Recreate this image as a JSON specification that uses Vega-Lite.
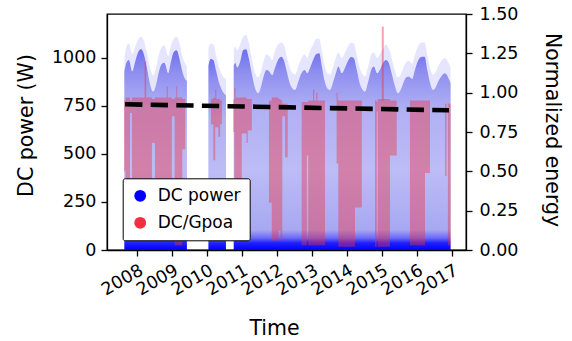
{
  "$schema": "https://vega.github.io/schema/vega-lite/v6.json",
  "width": 359,
  "height": 236,
  "autosize": {"type": "none"},
  "padding": {"left": 107, "top": 14, "right": 106, "bottom": 91},
  "background": "white",
  "config": {
    "font": "DejaVu Sans",
    "view": {"stroke": "black", "strokeWidth": 1.3},
    "axis": {
      "domainColor": "black", "tickColor": "black", "labelColor": "black", "titleColor": "black",
      "labelFont": "DejaVu Sans", "titleFont": "DejaVu Sans", "labelFontSize": 17.5, "titleFontSize": 20.5,
      "titleFontWeight": "normal", "grid": false, "tickSize": 6, "domainWidth": 1.3, "tickWidth": 1.3
    }
  },
  "datasets": {
    "power": [
      {"t": "2007-08-24", "seg": "a", "top": 1000, "core": 930},
      {"t": "2007-09-15", "seg": "a", "top": 1060, "core": 975},
      {"t": "2007-10-10", "seg": "a", "top": 1075, "core": 990},
      {"t": "2007-11-15", "seg": "a", "top": 1020, "core": 930},
      {"t": "2007-12-15", "seg": "a", "top": 1060, "core": 980},
      {"t": "2008-01-20", "seg": "a", "top": 1100, "core": 1035},
      {"t": "2008-02-15", "seg": "a", "top": 1110, "core": 1045},
      {"t": "2008-03-15", "seg": "a", "top": 1090, "core": 1020},
      {"t": "2008-04-15", "seg": "a", "top": 1030, "core": 950},
      {"t": "2008-05-15", "seg": "a", "top": 960, "core": 870},
      {"t": "2008-06-20", "seg": "a", "top": 910, "core": 825},
      {"t": "2008-07-20", "seg": "a", "top": 950, "core": 860},
      {"t": "2008-08-20", "seg": "a", "top": 1020, "core": 930},
      {"t": "2008-09-20", "seg": "a", "top": 1060, "core": 970},
      {"t": "2008-10-15", "seg": "a", "top": 1065, "core": 975},
      {"t": "2008-11-25", "seg": "a", "top": 1010, "core": 920},
      {"t": "2008-12-20", "seg": "a", "top": 1060, "core": 975},
      {"t": "2009-01-20", "seg": "a", "top": 1100, "core": 1030},
      {"t": "2009-02-20", "seg": "a", "top": 1110, "core": 1040},
      {"t": "2009-03-20", "seg": "a", "top": 1080, "core": 1000},
      {"t": "2009-04-20", "seg": "a", "top": 1010, "core": 930},
      {"t": "2009-05-15", "seg": "a", "top": 975, "core": 895},
      {"t": "2009-06-07", "seg": "a", "top": 960, "core": 880},
      {"t": "2010-01-18", "seg": "b", "top": 1050, "core": 960},
      {"t": "2010-02-10", "seg": "b", "top": 1075, "core": 995},
      {"t": "2010-03-10", "seg": "b", "top": 1070, "core": 990},
      {"t": "2010-04-10", "seg": "b", "top": 1010, "core": 930},
      {"t": "2010-05-10", "seg": "b", "top": 950, "core": 870},
      {"t": "2010-06-10", "seg": "b", "top": 910, "core": 830},
      {"t": "2010-07-20", "seg": "b", "top": 890, "core": 805},
      {"t": "2010-10-09", "seg": "c", "top": 1040, "core": 960},
      {"t": "2010-10-25", "seg": "c", "top": 1060, "core": 974},
      {"t": "2010-11-15", "seg": "c", "top": 1040, "core": 950},
      {"t": "2010-12-15", "seg": "c", "top": 1070, "core": 980},
      {"t": "2011-01-15", "seg": "c", "top": 1110, "core": 1040},
      {"t": "2011-02-15", "seg": "c", "top": 1120, "core": 1045},
      {"t": "2011-03-15", "seg": "c", "top": 1080, "core": 1000},
      {"t": "2011-04-15", "seg": "c", "top": 1000, "core": 920},
      {"t": "2011-05-15", "seg": "c", "top": 930, "core": 850},
      {"t": "2011-06-20", "seg": "c", "top": 900, "core": 816},
      {"t": "2011-07-15", "seg": "c", "top": 920, "core": 840},
      {"t": "2011-08-15", "seg": "c", "top": 980, "core": 900},
      {"t": "2011-09-15", "seg": "c", "top": 1020, "core": 937},
      {"t": "2011-10-15", "seg": "c", "top": 1010, "core": 930},
      {"t": "2011-11-15", "seg": "c", "top": 990, "core": 910},
      {"t": "2011-12-15", "seg": "c", "top": 1040, "core": 950},
      {"t": "2012-01-15", "seg": "c", "top": 1070, "core": 990},
      {"t": "2012-02-20", "seg": "c", "top": 1080, "core": 1007},
      {"t": "2012-03-15", "seg": "c", "top": 1070, "core": 990},
      {"t": "2012-04-15", "seg": "c", "top": 1010, "core": 930},
      {"t": "2012-05-15", "seg": "c", "top": 950, "core": 870},
      {"t": "2012-06-15", "seg": "c", "top": 920, "core": 840},
      {"t": "2012-07-10", "seg": "c", "top": 915, "core": 833},
      {"t": "2012-08-15", "seg": "c", "top": 960, "core": 880},
      {"t": "2012-09-15", "seg": "c", "top": 1000, "core": 920},
      {"t": "2012-10-20", "seg": "c", "top": 1020, "core": 937},
      {"t": "2012-11-15", "seg": "c", "top": 1000, "core": 920},
      {"t": "2012-12-15", "seg": "c", "top": 1040, "core": 950},
      {"t": "2013-01-15", "seg": "c", "top": 1070, "core": 990},
      {"t": "2013-02-15", "seg": "c", "top": 1100, "core": 1020},
      {"t": "2013-03-20", "seg": "c", "top": 1100, "core": 1024},
      {"t": "2013-04-15", "seg": "c", "top": 1040, "core": 960},
      {"t": "2013-05-15", "seg": "c", "top": 960, "core": 880},
      {"t": "2013-06-15", "seg": "c", "top": 920, "core": 840},
      {"t": "2013-07-10", "seg": "c", "top": 915, "core": 833},
      {"t": "2013-08-15", "seg": "c", "top": 960, "core": 880},
      {"t": "2013-09-15", "seg": "c", "top": 1010, "core": 930},
      {"t": "2013-10-05", "seg": "c", "top": 1030, "core": 955},
      {"t": "2013-11-10", "seg": "c", "top": 1000, "core": 920},
      {"t": "2013-12-15", "seg": "c", "top": 1030, "core": 950},
      {"t": "2014-01-15", "seg": "c", "top": 1060, "core": 985},
      {"t": "2014-02-15", "seg": "c", "top": 1080, "core": 1005},
      {"t": "2014-03-15", "seg": "c", "top": 1075, "core": 1000},
      {"t": "2014-04-15", "seg": "c", "top": 1020, "core": 940},
      {"t": "2014-05-15", "seg": "c", "top": 950, "core": 870},
      {"t": "2014-06-15", "seg": "c", "top": 915, "core": 835},
      {"t": "2014-07-10", "seg": "c", "top": 905, "core": 825},
      {"t": "2014-08-15", "seg": "c", "top": 960, "core": 880},
      {"t": "2014-09-15", "seg": "c", "top": 1020, "core": 940},
      {"t": "2014-10-10", "seg": "c", "top": 1030, "core": 955},
      {"t": "2014-11-15", "seg": "c", "top": 1000, "core": 920},
      {"t": "2014-12-15", "seg": "c", "top": 1020, "core": 940},
      {"t": "2015-01-15", "seg": "c", "top": 1050, "core": 975},
      {"t": "2015-02-15", "seg": "c", "top": 1070, "core": 990},
      {"t": "2015-03-15", "seg": "c", "top": 1050, "core": 975},
      {"t": "2015-04-15", "seg": "c", "top": 1000, "core": 920},
      {"t": "2015-05-15", "seg": "c", "top": 940, "core": 860},
      {"t": "2015-06-20", "seg": "c", "top": 900, "core": 816},
      {"t": "2015-07-15", "seg": "c", "top": 910, "core": 830},
      {"t": "2015-08-15", "seg": "c", "top": 950, "core": 870},
      {"t": "2015-09-15", "seg": "c", "top": 980, "core": 900},
      {"t": "2015-10-10", "seg": "c", "top": 985, "core": 903},
      {"t": "2015-11-15", "seg": "c", "top": 970, "core": 890},
      {"t": "2015-12-15", "seg": "c", "top": 1020, "core": 940},
      {"t": "2016-01-15", "seg": "c", "top": 1060, "core": 985},
      {"t": "2016-02-15", "seg": "c", "top": 1080, "core": 1005},
      {"t": "2016-03-25", "seg": "c", "top": 1080, "core": 1007},
      {"t": "2016-04-20", "seg": "c", "top": 1020, "core": 940},
      {"t": "2016-05-15", "seg": "c", "top": 960, "core": 880},
      {"t": "2016-06-20", "seg": "c", "top": 915, "core": 833},
      {"t": "2016-07-15", "seg": "c", "top": 925, "core": 845},
      {"t": "2016-08-15", "seg": "c", "top": 960, "core": 880},
      {"t": "2016-09-15", "seg": "c", "top": 985, "core": 905},
      {"t": "2016-10-20", "seg": "c", "top": 1000, "core": 920},
      {"t": "2016-12-20", "seg": "c", "top": 950, "core": 868}
    ],
    "ratio": [
      {"t": "2007-08-22", "seg": "r1", "hi": 0.95, "lo": 0.50},
      {"t": "2007-09-05", "seg": "r1", "hi": 0.97, "lo": 0.20},
      {"t": "2007-10-22", "seg": "r1", "hi": 0.95, "lo": 0.87},
      {"t": "2007-11-12", "seg": "r1", "hi": 0.97, "lo": 0.20},
      {"t": "2008-03-22", "seg": "r1", "hi": 1.20, "lo": 0.20},
      {"t": "2008-04-08", "seg": "r1", "hi": 0.97, "lo": 0.20},
      {"t": "2008-06-07", "seg": "r1", "hi": 0.96, "lo": 0.68},
      {"t": "2008-07-09", "seg": "r1", "hi": 0.97, "lo": 0.25},
      {"t": "2008-11-08", "seg": "r1", "hi": 1.04, "lo": 0.25},
      {"t": "2008-11-20", "seg": "r1", "hi": 0.97, "lo": 0.25},
      {"t": "2009-01-01", "seg": "r1", "hi": 0.96, "lo": 0.85},
      {"t": "2009-01-30", "seg": "r1", "hi": 0.97, "lo": 0.03},
      {"t": "2009-02-16", "seg": "r1", "hi": 1.04, "lo": 0.03},
      {"t": "2009-02-26", "seg": "r1", "hi": 0.97, "lo": 0.03},
      {"t": "2009-04-20", "seg": "r1", "hi": 0.96, "lo": 0.64},
      {"t": "2009-05-20", "seg": "r1", "hi": 0.96, "lo": 0.64},
      {"t": "2010-02-14", "seg": "r2", "hi": 0.96, "lo": 0.80},
      {"t": "2010-03-10", "seg": "r2", "hi": 0.97, "lo": 0.57},
      {"t": "2010-03-30", "seg": "r2", "hi": 1.02, "lo": 0.78},
      {"t": "2010-04-10", "seg": "r2", "hi": 0.96, "lo": 0.78},
      {"t": "2010-05-01", "seg": "r2", "hi": 0.96, "lo": 0.72},
      {"t": "2010-05-20", "seg": "r2", "hi": 0.95, "lo": 0.80},
      {"t": "2010-06-07", "seg": "r2", "hi": 0.95, "lo": 0.80},
      {"t": "2010-10-05", "seg": "r3", "hi": 0.96, "lo": 0.75},
      {"t": "2010-10-16", "seg": "r3", "hi": 1.03, "lo": 0.20},
      {"t": "2010-10-28", "seg": "r3", "hi": 0.97, "lo": 0.20},
      {"t": "2011-01-01", "seg": "r3", "hi": 0.97, "lo": 0.74},
      {"t": "2011-02-20", "seg": "r3", "hi": 0.96, "lo": 0.68},
      {"t": "2011-03-05", "seg": "r3", "hi": 0.96, "lo": 0.76},
      {"t": "2011-04-16", "seg": "r3", "hi": 0.96, "lo": 0.76},
      {"t": "2011-10-12", "seg": "r4", "hi": 0.95, "lo": 0.30},
      {"t": "2011-11-10", "seg": "r4", "hi": 0.97, "lo": 0.06},
      {"t": "2012-01-20", "seg": "r4", "hi": 0.96, "lo": 0.12},
      {"t": "2012-02-10", "seg": "r4", "hi": 0.95, "lo": 0.06},
      {"t": "2012-02-28", "seg": "r4", "hi": 0.93, "lo": 0.85},
      {"t": "2012-03-28", "seg": "r4", "hi": 0.93, "lo": 0.59},
      {"t": "2012-04-25", "seg": "r4", "hi": 0.93, "lo": 0.59},
      {"t": "2012-09-17", "seg": "r5", "hi": 0.94, "lo": 0.03},
      {"t": "2012-11-10", "seg": "r5", "hi": 0.94, "lo": 0.60},
      {"t": "2012-11-25", "seg": "r5", "hi": 0.95, "lo": 0.03},
      {"t": "2013-01-14", "seg": "r5", "hi": 1.02, "lo": 0.03},
      {"t": "2013-01-26", "seg": "r5", "hi": 0.95, "lo": 0.03},
      {"t": "2013-02-16", "seg": "r5", "hi": 1.00, "lo": 0.03},
      {"t": "2013-02-28", "seg": "r5", "hi": 0.95, "lo": 0.03},
      {"t": "2013-05-19", "seg": "r5", "hi": 0.95, "lo": 0.03},
      {"t": "2013-09-17", "seg": "r6", "hi": 1.00, "lo": 0.55},
      {"t": "2013-09-28", "seg": "r6", "hi": 0.95, "lo": 0.55},
      {"t": "2013-10-05", "seg": "r6", "hi": 0.95, "lo": 0.02},
      {"t": "2014-03-28", "seg": "r6", "hi": 0.95, "lo": 0.27},
      {"t": "2014-06-07", "seg": "r6", "hi": 0.95, "lo": 0.27},
      {"t": "2014-10-23", "seg": "r7", "hi": 0.95, "lo": 0.02},
      {"t": "2014-11-10", "seg": "r7", "hi": 0.94, "lo": 0.88},
      {"t": "2014-11-20", "seg": "r7", "hi": 0.96, "lo": 0.02},
      {"t": "2015-03-28", "seg": "r7", "hi": 0.95, "lo": 0.60},
      {"t": "2015-06-07", "seg": "r7", "hi": 0.95, "lo": 0.60},
      {"t": "2015-10-23", "seg": "r8", "hi": 0.95, "lo": 0.03},
      {"t": "2016-03-28", "seg": "r8", "hi": 0.95, "lo": 0.49},
      {"t": "2016-05-19", "seg": "r8", "hi": 0.95, "lo": 0.49},
      {"t": "2016-10-23", "seg": "r9", "hi": 0.93, "lo": 0.47},
      {"t": "2016-11-08", "seg": "r9", "hi": 0.93, "lo": 0.47},
      {"t": "2016-11-22", "seg": "r10", "hi": 0.93, "lo": 0.03},
      {"t": "2016-12-20", "seg": "r10", "hi": 0.93, "lo": 0.03}
    ],
    "spikes": [
      {"t": "2015-01-12", "v": 1.42, "base": 0.95}
    ],
    "trend": [
      {"t": "2007-09-01", "v": 0.926},
      {"t": "2016-12-03", "v": 0.888}
    ]
  },
  "encoding": {
    "x": {
      "field": "t", "type": "temporal",
      "scale": {"type": "utc", "domain": [{"year": 2007, "month": 2, "date": 24, "utc": true}, {"year": 2017, "month": 5, "date": 30, "utc": true}]},
      "axis": {
        "title": "Time", "format": "%Y", "labelAngle": -30, "labelAlign": "right", "labelBaseline": "top",
        "labelPadding": 5, "labelOverlap": false, "labelFlush": false,
        "values": [
          {"year": 2008, "month": 1, "date": 1, "utc": true}, {"year": 2009, "month": 1, "date": 1, "utc": true},
          {"year": 2010, "month": 1, "date": 1, "utc": true}, {"year": 2011, "month": 1, "date": 1, "utc": true},
          {"year": 2012, "month": 1, "date": 1, "utc": true}, {"year": 2013, "month": 1, "date": 1, "utc": true},
          {"year": 2014, "month": 1, "date": 1, "utc": true}, {"year": 2015, "month": 1, "date": 1, "utc": true},
          {"year": 2016, "month": 1, "date": 1, "utc": true}, {"year": 2017, "month": 1, "date": 1, "utc": true}
        ],
        "titleX": 167, "titleY": 84, "titleBaseline": "alphabetic", "titleAlign": "center"
      }
    }
  },
  "layer": [
    {
      "data": {"name": "power"},
      "layer": [
        {
          "mark": {"type": "area", "interpolate": "monotone", "fillOpacity": 0.1},
          "encoding": {
            "y": {"field": "top", "type": "quantitative", "stack": null,
              "scale": {"domain": [0, 1229], "nice": false, "zero": true},
              "axis": {"title": "DC power (W)", "orient": "left", "values": [0, 250, 500, 750, 1000], "format": "d", "labelPadding": 5,
                "titleAngle": 270, "titleX": -75, "titleY": 111, "titleAlign": "center", "titleBaseline": "alphabetic"}},
            "detail": {"field": "seg"},
            "color": {"datum": "DC power",
              "scale": {"domain": ["DC power", "DC/Gpoa"], "range": ["#0000ff", "#f03040"]},
              "legend": {"orient": "none", "legendX": 15.7, "legendY": 164.3, "title": null, "symbolType": "circle",
                "symbolSize": 140, "symbolOpacity": 1, "symbolStrokeWidth": 0, "labelFontSize": 17, "labelFont": "DejaVu Sans",
                "labelColor": "black", "padding": 9, "rowPadding": 9, "labelOffset": 9, "strokeColor": "black",
                "fillColor": "white", "cornerRadius": 2,
                "encode": {"symbols": {"update": {"opacity": {"value": 1}, "fillOpacity": {"value": 1}}}}}}
          }
        },
        {
          "mark": {"type": "area", "interpolate": "monotone",
            "fill": {"gradient": "linear", "x1": 0, "y1": 0, "x2": 0, "y2": 1, "stops": [
              {"offset": 0, "color": "#7070ee"},
              {"offset": 0.12, "color": "#9090f0"},
              {"offset": 0.3, "color": "#b0b0f4"},
              {"offset": 0.6, "color": "#bcbcf6"},
              {"offset": 0.9, "color": "#a8a8f2"},
              {"offset": 0.94, "color": "#6a6af6"},
              {"offset": 0.965, "color": "#2020fc"},
              {"offset": 1, "color": "#0000ff"}
            ]}},
          "encoding": {
            "y": {"field": "core", "type": "quantitative", "stack": null,
              "scale": {"domain": [0, 1229], "nice": false, "zero": true},
              "axis": {"title": "DC power (W)", "orient": "left", "values": [0, 250, 500, 750, 1000], "format": "d", "labelPadding": 5,
                "titleAngle": 270, "titleX": -75, "titleY": 111, "titleAlign": "center", "titleBaseline": "alphabetic"}},
            "detail": {"field": "seg"}
          }
        }
      ]
    },
    {
      "layer": [
        {
          "data": {"name": "ratio"},
          "mark": {"type": "area", "interpolate": "step-after", "fillOpacity": 0.42},
          "encoding": {
            "y": {"field": "hi", "type": "quantitative", "stack": null,
              "scale": {"domain": [0, 1.5], "nice": false},
              "axis": {"title": "Normalized energy", "orient": "right", "values": [0, 0.25, 0.5, 0.75, 1, 1.25, 1.5], "format": ".2f",
                "labelPadding": 7, "titleAngle": 90, "titleX": 79, "titleY": 115.5, "titleAlign": "center", "titleBaseline": "alphabetic"}},
            "y2": {"field": "lo"},
            "detail": {"field": "seg"},
            "color": {"datum": "DC/Gpoa", "scale": {"domain": ["DC power", "DC/Gpoa"], "range": ["#0000ff", "#f03040"]}}
          }
        },
        {
          "data": {"name": "spikes"},
          "mark": {"type": "rule", "color": "#f03040", "opacity": 0.45, "strokeWidth": 2},
          "encoding": {
            "y": {"field": "v", "type": "quantitative",
              "scale": {"domain": [0, 1.5], "nice": false},
              "axis": {"title": "Normalized energy", "orient": "right", "values": [0, 0.25, 0.5, 0.75, 1, 1.25, 1.5], "format": ".2f",
                "labelPadding": 7, "titleAngle": 90, "titleX": 79, "titleY": 115.5, "titleAlign": "center", "titleBaseline": "alphabetic"}},
            "y2": {"field": "base"}
          }
        },
        {
          "data": {"name": "trend"},
          "mark": {"type": "line", "color": "black", "strokeWidth": 4.6, "strokeDash": [17.3, 8.3], "strokeCap": "butt"},
          "encoding": {
            "y": {"field": "v", "type": "quantitative",
              "scale": {"domain": [0, 1.5], "nice": false},
              "axis": {"title": "Normalized energy", "orient": "right", "values": [0, 0.25, 0.5, 0.75, 1, 1.25, 1.5], "format": ".2f",
                "labelPadding": 7, "titleAngle": 90, "titleX": 79, "titleY": 115.5, "titleAlign": "center", "titleBaseline": "alphabetic"}}
          }
        }
      ]
    }
  ],
  "resolve": {"scale": {"y": "independent"}}
}
